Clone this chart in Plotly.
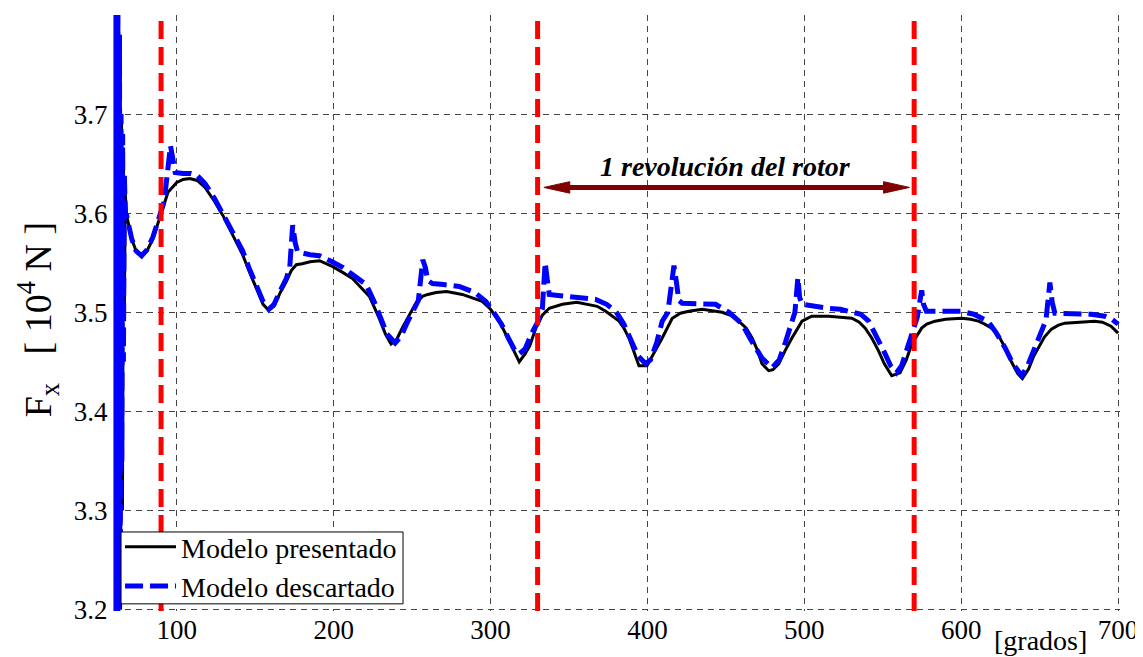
import plotly.graph_objects as go

# ---------------- data ----------------
x_presentado = [60, 60.6, 61.2, 61.8, 62.4, 63, 63.6, 64.2, 64.8, 65.4, 66, 66.6, 67.2,
                68, 71.3, 74, 77.6, 81, 84.8, 88, 90, 94.4, 100, 104, 108.3, 113, 118, 124,
                129.3, 135, 142, 146, 150.8, 155, 158.6, 162, 166, 169.8, 173, 176.2, 180,
                185, 191, 199.4, 206, 212, 218, 222.8, 229, 233, 236.6, 240, 244, 248.3,
                252, 256.6, 260, 265.3, 272, 282, 290, 294.7, 300, 305.5, 310, 313.8, 318.3,
                322, 325, 328.9, 333, 337.4, 345.8, 355, 362.8, 368, 373.4, 378, 381.9, 385,
                388.2, 391, 394.6, 399.7, 404, 409.4, 415.8, 421, 426.4, 435, 447.6, 453,
                458.2, 463, 466.7, 470, 473, 477.3, 480, 483.7, 488, 492.1, 498.5, 504.7,
                515.5, 522, 530.3, 535, 538.8, 543, 547.3, 551, 555.7, 561, 565, 568.5,
                574.8, 578, 583.3, 590, 600.3, 606, 611, 615, 619.4, 624, 628, 632, 636,
                639, 643, 646, 649, 653, 657.5, 662, 666, 675, 685, 690, 695.5, 700]
y_presentado = [3.85, 3.15, 3.85, 3.15, 3.82, 3.18, 3.78, 3.2, 3.7, 3.3, 3.66, 3.5, 3.62,
                3.598, 3.574, 3.562, 3.556, 3.562, 3.574, 3.59, 3.601, 3.621, 3.631, 3.634,
                3.635, 3.633, 3.626, 3.612, 3.598, 3.58, 3.558, 3.542, 3.524, 3.508, 3.502,
                3.506, 3.52, 3.531, 3.542, 3.548, 3.549, 3.551, 3.552, 3.546, 3.54, 3.534,
                3.524, 3.516, 3.494, 3.478, 3.468, 3.472, 3.485, 3.498, 3.508, 3.516, 3.518,
                3.52, 3.521, 3.518, 3.514, 3.511, 3.503, 3.491, 3.477, 3.464, 3.45, 3.458,
                3.466, 3.484, 3.497, 3.504, 3.508, 3.51, 3.508, 3.506, 3.501, 3.496, 3.491,
                3.484, 3.474, 3.462, 3.446, 3.446, 3.458, 3.474, 3.494, 3.499, 3.501, 3.503,
                3.5, 3.497, 3.491, 3.484, 3.474, 3.462, 3.448, 3.441, 3.442, 3.448, 3.462,
                3.474, 3.491, 3.496, 3.496, 3.495, 3.494, 3.49, 3.484, 3.474, 3.461, 3.448,
                3.436, 3.439, 3.452, 3.468, 3.484, 3.488, 3.491, 3.493, 3.494, 3.493, 3.491,
                3.488, 3.484, 3.476, 3.464, 3.45, 3.438, 3.433, 3.443, 3.455, 3.464, 3.475,
                3.483, 3.487, 3.489, 3.49, 3.491, 3.49, 3.486, 3.479]

x_descartado = [60, 60.5, 61, 61.5, 62, 62.5, 63, 63.5, 64, 64.5, 65, 65.5, 66, 66.6, 67.2,
                68, 71.3, 74, 77.6, 81, 84.8, 88, 90, 92, 94, 96, 97.5, 99, 104, 109, 113,
                118, 124, 129.3, 135, 142, 146, 150.8, 155, 158.6, 162, 166, 169.8, 172,
                173.9, 175.5, 177, 185, 191, 199, 206, 212, 220.7, 226, 230, 234, 239.2,
                243, 247, 251, 254, 256.8, 258.5, 260, 263, 270, 280, 290, 297, 302, 307,
                312, 316, 318.3, 322, 326, 330, 333, 334.8, 336, 337.4, 343, 350, 358, 367,
                374, 379.8, 385, 390, 394, 398.9, 402, 406, 409.4, 413, 416.9, 418.5, 420,
                422.2, 433, 443.4, 452, 460.4, 466, 472.9, 479.4, 484, 488, 491.9, 494,
                495.9, 497, 498.5, 506, 515.5, 523, 530, 536, 541, 546, 551.5, 555, 558.7,
                562, 565, 568.5, 572, 574.8, 576, 577.8, 589.7, 600, 608, 617, 622, 628,
                633, 638.5, 642, 646, 651, 654, 656.5, 658, 659.7, 667, 674.5, 683, 691.5,
                696, 700]
y_descartado = [3.15, 3.85, 3.15, 3.85, 3.15, 3.82, 3.2, 3.78, 3.22, 3.7, 3.35, 3.68, 3.45,
                3.64, 3.6, 3.598, 3.574, 3.562, 3.557, 3.563, 3.576, 3.592, 3.603, 3.612,
                3.64, 3.668, 3.655, 3.641, 3.64, 3.64, 3.638, 3.63, 3.615, 3.6, 3.584,
                3.562, 3.545, 3.527, 3.511, 3.503, 3.508, 3.522, 3.534, 3.545, 3.588, 3.57,
                3.561, 3.558, 3.557, 3.551, 3.545, 3.538, 3.528, 3.51, 3.494, 3.478, 3.469,
                3.476, 3.49, 3.503, 3.512, 3.553, 3.545, 3.532, 3.529, 3.528, 3.526, 3.52,
                3.511, 3.5, 3.488, 3.472, 3.46, 3.458, 3.463, 3.478, 3.49, 3.503, 3.55,
                3.535, 3.518, 3.517, 3.516, 3.515, 3.513, 3.508, 3.501, 3.488, 3.471, 3.456,
                3.448, 3.452, 3.47, 3.491, 3.5, 3.547, 3.53, 3.512, 3.509, 3.509, 3.508,
                3.5, 3.488, 3.472, 3.454, 3.444, 3.452, 3.47, 3.491, 3.5, 3.535, 3.515,
                3.508, 3.506, 3.504, 3.503, 3.501, 3.498, 3.491, 3.476, 3.458, 3.446, 3.439,
                3.446, 3.46, 3.478, 3.495, 3.522, 3.508, 3.501, 3.501, 3.501, 3.498, 3.491,
                3.48, 3.464, 3.448, 3.436, 3.445, 3.46, 3.478, 3.492, 3.53, 3.51, 3.499,
                3.499, 3.499, 3.498, 3.496, 3.493, 3.488]

marcas_rojas = [90, 330, 570]
x_ticks = [100, 200, 300, 400, 500, 600, 700]
y_ticks = [3.2, 3.3, 3.4, 3.5, 3.6, 3.7]
revolucion = [330, 570]
nivel_flecha = 3.626
texto_revolucion = "1 revolución del rotor"

FONT = "Liberation Serif, Times New Roman, serif"
FLECHA = "#800000"

fig = go.Figure()
fig.add_trace(go.Scatter(x=x_presentado, y=y_presentado, mode="lines",
                         name="Modelo presentado",
                         line=dict(color="black", width=3)))
fig.add_trace(go.Scatter(x=x_descartado, y=y_descartado, mode="lines",
                         name="Modelo descartado",
                         line=dict(color="#0000ff", width=5, dash="18px,7px")))

for xv in marcas_rojas:
    fig.add_shape(type="line", x0=xv, x1=xv, y0=0, y1=1, xref="x", yref="paper",
                  line=dict(color="#ff0000", width=5, dash="18px,8px"), layer="above")

# double-headed arrow between the revolution marks (shaft + two heads)
x_ini, x_fin = revolucion[0] + 4, revolucion[1] - 3
largo_punta = 16.5   # x units
media_altura = 0.0058  # y units
fig.add_shape(type="line", x0=x_ini + largo_punta * 0.8, x1=x_fin - largo_punta * 0.8,
              y0=nivel_flecha, y1=nivel_flecha, xref="x", yref="y",
              line=dict(color=FLECHA, width=5))
for tip, sign in [(x_ini, 1), (x_fin, -1)]:
    base = tip + sign * largo_punta
    fig.add_shape(type="path", xref="x", yref="y",
                  path=f"M {tip},{nivel_flecha} L {base},{nivel_flecha + media_altura} "
                       f"L {base},{nivel_flecha - media_altura} Z",
                  fillcolor=FLECHA, line=dict(color=FLECHA, width=1))

# legend frame (white box with black border)
fig.add_shape(type="rect", xref="paper", yref="paper", x0=0.007, x1=0.2873,
              y0=0.012, y1=0.1326, fillcolor="white", line=dict(color="black", width=1),
              layer="above")

fig.add_annotation(x=(revolucion[0] + revolucion[1]) / 2, y=3.647, xref="x", yref="y",
                   text="<b><i>" + texto_revolucion + "</i></b>",
                   showarrow=False, font=dict(family=FONT, size=28, color="black"))

# axis titles as annotations
fig.add_annotation(x=-0.104, y=0.49, xref="paper", yref="paper",
                   xanchor="left", yanchor="middle",
                   text="F<sub>x</sub>   [ 10<sup>4</sup> N ]", textangle=-90,
                   showarrow=False, font=dict(family=FONT, size=38, color="black"))
fig.add_annotation(x=0.9205, y=-0.0503, xref="paper", yref="paper",
                   xanchor="center", yanchor="middle", text="[grados]",
                   showarrow=False, font=dict(family=FONT, size=28, color="black"))

fig.update_layout(
    width=1135, height=649,
    margin=dict(l=106, r=23, t=7, b=46, autoexpand=False),
    paper_bgcolor="white", plot_bgcolor="white",
    font=dict(family=FONT, size=27, color="black"),
    showlegend=True,
    legend=dict(x=0.006, y=0.1493, xanchor="left", yanchor="top",
                bgcolor="rgba(0,0,0,0)", borderwidth=0,
                font=dict(family=FONT, size=28, color="black"),
                itemwidth=51, tracegroupgap=0),
    xaxis=dict(range=[60, 701.2], tickvals=x_ticks, ticktext=[str(v) for v in x_ticks],
               showgrid=True, gridcolor="#444444", gridwidth=1, griddash="6px,5px",
               zeroline=False, showline=False, ticks="", automargin=False,
               ticklabeloverflow="allow", tickfont=dict(family=FONT, size=27)),
    yaxis=dict(range=[3.1985, 3.8], tickvals=y_ticks, ticktext=[f"{v:.1f}" for v in y_ticks],
               showgrid=True, gridcolor="#444444", gridwidth=1, griddash="6px,5px",
               zeroline=False, showline=True, linecolor="#808080", linewidth=1,
               ticks="", automargin=False, tickfont=dict(family=FONT, size=27)),
)

fig.write_html("out.html")
